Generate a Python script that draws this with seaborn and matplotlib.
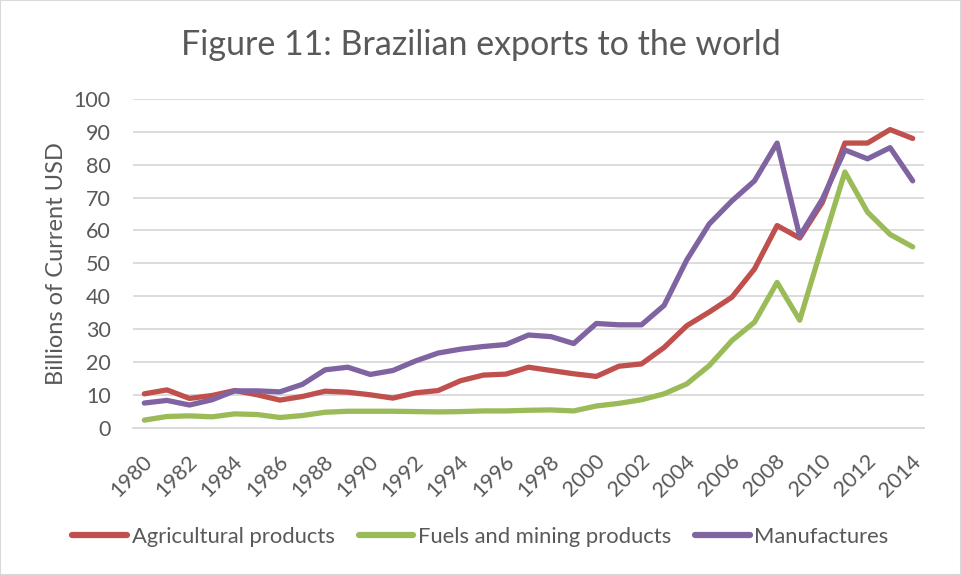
import matplotlib
matplotlib.use("Agg")
import matplotlib.pyplot as plt
import matplotlib.transforms as mtransforms
import seaborn as sns
import pandas as pd

years = list(range(1980, 2015))

agricultural = [10.3, 11.5, 8.9, 9.8, 11.3, 10.0, 8.4, 9.5, 11.1, 10.8,
                10.0, 9.0, 10.6, 11.3, 14.3, 16.0, 16.3, 18.4, 17.4, 16.4,
                15.6, 18.7, 19.4, 24.4, 31.0, 35.2, 39.7, 48.3, 61.5, 57.7,
                68.5, 86.6, 86.6, 90.7, 88.0]

fuels_mining = [2.3, 3.4, 3.6, 3.3, 4.2, 4.0, 3.1, 3.7, 4.7, 5.0,
                5.0, 5.0, 4.9, 4.8, 4.9, 5.1, 5.1, 5.3, 5.4, 5.1,
                6.6, 7.4, 8.5, 10.3, 13.3, 18.9, 26.5, 32.1, 44.2, 32.7,
                55.5, 77.8, 65.6, 58.8, 55.0]

manufactures = [7.5, 8.3, 6.9, 8.5, 11.2, 11.2, 10.9, 13.2, 17.6, 18.4,
                16.2, 17.4, 20.3, 22.7, 23.9, 24.7, 25.3, 28.2, 27.7, 25.6,
                31.7, 31.3, 31.3, 37.2, 51.0, 62.0, 69.0, 75.1, 86.6, 58.3,
                69.5, 84.5, 81.8, 85.2, 75.1]

series_names = ["Agricultural products", "Fuels and mining products", "Manufactures"]
palette = ["#C0504D", "#9BBB59", "#8064A2"]

df = pd.concat([
    pd.DataFrame({"Year": years, "Value": agricultural, "Series": series_names[0]}),
    pd.DataFrame({"Year": years, "Value": fuels_mining, "Series": series_names[1]}),
    pd.DataFrame({"Year": years, "Value": manufactures, "Series": series_names[2]}),
])

sns.set_theme(style="white")
plt.rcParams["font.family"] = ["Lato", "DejaVu Sans"]
text_color = "#595959"
grid_color = "#D9D9D9"

fig = plt.figure(figsize=(9.61, 5.75), dpi=100)
ax = fig.add_axes([0.1384, 0.2562, 0.8231, 0.5716])

sns.lineplot(data=df, x="Year", y="Value", hue="Series", palette=palette,
             hue_order=series_names, linewidth=3.8, sort=False, ax=ax,
             legend=False)
for ln in ax.lines:
    ln.set_solid_capstyle("round")
    ln.set_solid_joinstyle("round")

ax.set_xlim(1979.5, 2014.5)
ax.set_ylim(0, 100)
ax.set_yticks(range(0, 101, 10))
ax.set_xticks(years[::2])
ax.set_xticklabels([str(y) for y in years[::2]], rotation=45, ha="right",
                   va="center", rotation_mode="anchor")
ax.tick_params(axis="both", length=0, labelsize=15.5, colors=text_color)
ax.tick_params(axis="x", pad=22)
ax.tick_params(axis="y", pad=16)

# nudge the slanted year labels slightly to the right of their ticks
shift = mtransforms.ScaledTranslation(5 / 100, 0, fig.dpi_scale_trans)
for lbl in ax.get_xticklabels():
    lbl.set_transform(lbl.get_transform() + shift)

ax.yaxis.grid(True, color=grid_color, linewidth=1.3)
ax.set_axisbelow(True)
for side in ["top", "right", "left"]:
    ax.spines[side].set_visible(False)
ax.spines["bottom"].set_color(grid_color)
ax.spines["bottom"].set_linewidth(1.3)

ax.set_xlabel("")
ax.set_ylabel("Billions of Current USD", fontsize=17, color=text_color, labelpad=5)

fig.text(0.5, 0.922, "Figure 11: Brazilian exports to the world", ha="center",
         va="center", fontsize=24.5, color=text_color)

handles = [plt.Line2D([], [], color=c, linewidth=4.5, solid_capstyle="round") for c in palette]
fig.legend(handles, series_names, loc="center", bbox_to_anchor=(0.5, 0.066),
           ncol=3, frameon=False, fontsize=15.8, labelcolor=text_color,
           handlelength=2.5, handletextpad=0.2, columnspacing=1.1)

fig.patches.append(plt.Rectangle((0.0005, 0.0005), 0.999, 0.999, transform=fig.transFigure,
                                 fill=False, edgecolor=grid_color, linewidth=1.5))

fig.savefig("out.png", dpi=100)
